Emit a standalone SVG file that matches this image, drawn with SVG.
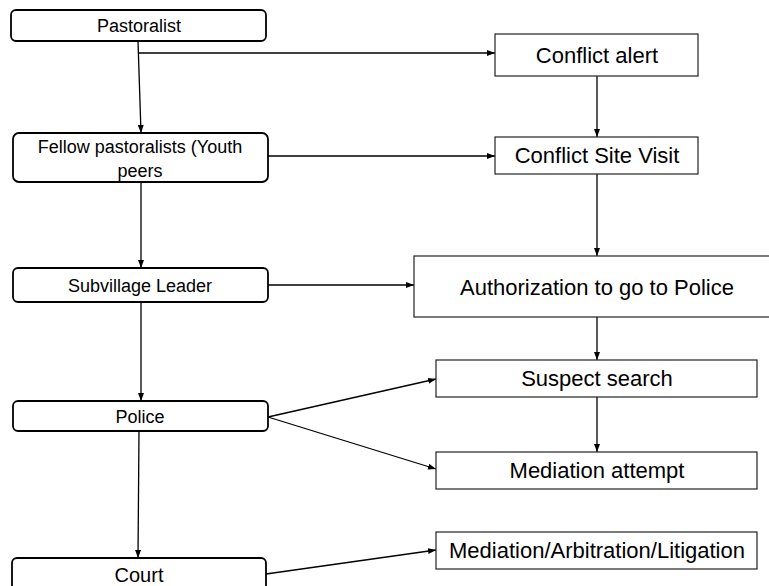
<svg xmlns="http://www.w3.org/2000/svg" width="769" height="586" viewBox="0 0 769 586">
<style>
.rb{fill:#fff;stroke:#000;stroke-width:1.8}
.sb{fill:#fff;stroke:#222;stroke-width:1.2}
.lt{font-family:"Liberation Sans",Arial,sans-serif;font-size:18px;fill:#000;text-anchor:middle}
.rt{font-family:"Liberation Sans",Arial,sans-serif;font-size:22px;fill:#000;text-anchor:middle}
.cn{fill:none;stroke:#000;stroke-width:1.3;marker-end:url(#ah)}
</style>
<defs>
<marker id="ah" markerUnits="userSpaceOnUse" markerWidth="9" markerHeight="7" refX="8" refY="3" orient="auto">
<path d="M0,0 L8,3 L0,6 z" fill="#000"/>
</marker>
</defs>
<rect width="769" height="586" fill="#fff"/>
<g id="connectors">
<line class="cn" x1="138" y1="41" x2="141" y2="133"/>
<line class="cn" x1="138" y1="53" x2="495" y2="53"/>
<line class="cn" x1="268" y1="156" x2="495" y2="156"/>
<line class="cn" x1="141" y1="182" x2="141" y2="268"/>
<line class="cn" x1="268" y1="285" x2="414" y2="285"/>
<line class="cn" x1="141" y1="302" x2="141" y2="401"/>
<line class="cn" x1="268" y1="417" x2="436" y2="379"/>
<line class="cn" x1="268" y1="417" x2="436" y2="469"/>
<line class="cn" x1="139" y1="431" x2="138" y2="558"/>
<line class="cn" x1="266" y1="574" x2="436" y2="550"/>
<line class="cn" x1="597" y1="76" x2="597" y2="137"/>
<line class="cn" x1="597" y1="174" x2="597" y2="256"/>
<line class="cn" x1="597" y1="317" x2="597" y2="360"/>
<line class="cn" x1="597" y1="397" x2="597" y2="452"/>
</g>
<g id="pastoralist">
<rect class="rb" x="11" y="10" width="255" height="31" rx="5"/>
<text class="lt" x="139" y="32">Pastoralist</text>
</g>
<g id="fellow">
<rect class="rb" x="13" y="133" width="255" height="49" rx="6"/>
<text class="lt" x="140" y="153">Fellow pastoralists (Youth</text>
<text class="lt" x="140" y="177">peers</text>
</g>
<g id="subvillage">
<rect class="rb" x="13" y="268" width="255" height="34" rx="5"/>
<text class="lt" x="140" y="292">Subvillage Leader</text>
</g>
<g id="police">
<rect class="rb" x="13" y="401" width="255" height="30" rx="5"/>
<text class="lt" x="140" y="423">Police</text>
</g>
<g id="court">
<rect class="rb" x="12" y="558" width="254" height="40" rx="5"/>
<text class="lt" x="139" y="582" style="font-size:20px">Court</text>
</g>
<g id="conflict-alert">
<rect class="sb" x="495" y="34" width="203" height="42"/>
<text class="rt" x="597" y="63">Conflict alert</text>
</g>
<g id="site-visit">
<rect class="sb" x="495" y="137" width="203" height="37"/>
<text class="rt" x="597" y="163">Conflict Site Visit</text>
</g>
<g id="authorization">
<rect class="sb" x="414" y="256" width="365" height="61"/>
<text class="rt" x="597" y="295">Authorization to go to Police</text>
</g>
<g id="suspect-search">
<rect class="sb" x="436" y="360" width="321" height="37"/>
<text class="rt" x="597" y="386">Suspect search</text>
</g>
<g id="mediation-attempt">
<rect class="sb" x="436" y="452" width="321" height="37"/>
<text class="rt" x="597" y="478">Mediation attempt</text>
</g>
<g id="mediation-arbitration">
<rect class="sb" x="436" y="532" width="321" height="37"/>
<text class="rt" x="597" y="558">Mediation/Arbitration/Litigation</text>
</g>
</svg>
